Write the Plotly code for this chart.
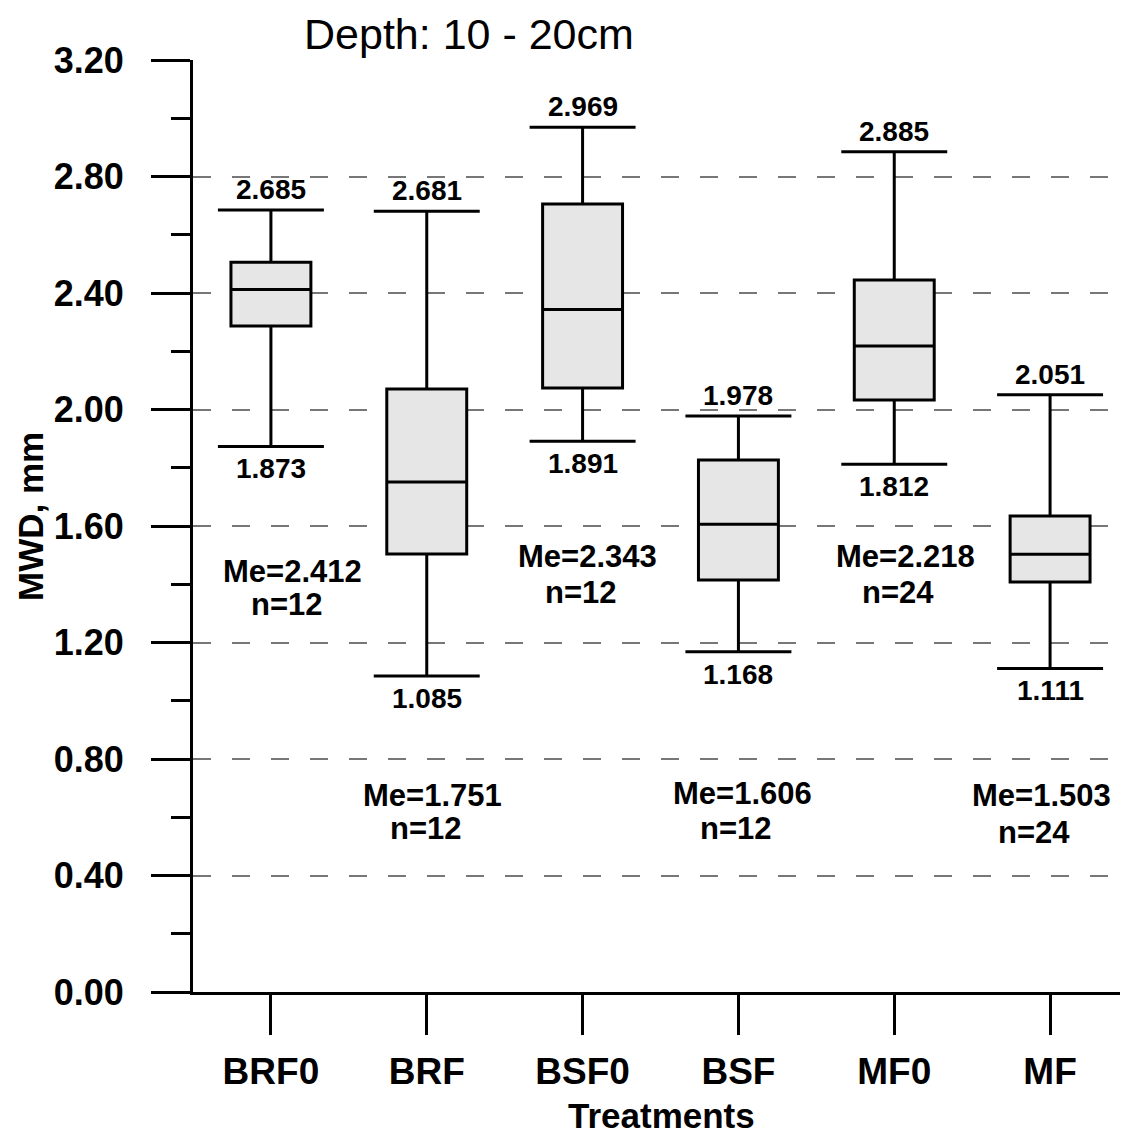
import plotly.graph_objects as go

# ---- data ----
treatments = ["BRF0", "BRF", "BSF0", "BSF", "MF0", "MF"]
whisker_low = [1.873, 1.085, 1.891, 1.168, 1.812, 1.111]
q1 = [2.287, 1.504, 2.074, 1.415, 2.033, 1.408]
median = [2.412, 1.751, 2.343, 1.606, 2.218, 1.503]
q3 = [2.506, 2.070, 2.706, 1.827, 2.445, 1.634]
whisker_high = [2.685, 2.681, 2.969, 1.978, 2.885, 2.051]
n_obs = [12, 12, 12, 12, 24, 24]
y_ticks = [0.0, 0.4, 0.8, 1.2, 1.6, 2.0, 2.4, 2.8, 3.2]

# ---- layout constants (label placement) ----
me_label_y = [1.4455, 0.676, 1.4936, 0.683, 1.4936, 0.676]
n_label_y = [1.329, 0.560, 1.373, 0.563, 1.373, 0.549]
me_xshift = [22, 6, 5, 4, 11, -9]
n_xshift = [16, -1, -2, -2, 4, -16]

FONT = "Arial, 'Liberation Sans', sans-serif"
xs = list(range(len(treatments)))
BOX_W = 0.513
CAP_HALF = 0.34

fig = go.Figure()

fig.add_trace(go.Box(
    x=xs, q1=q1, median=median, q3=q3,
    lowerfence=whisker_low, upperfence=whisker_high,
    width=BOX_W, whiskerwidth=0,
    fillcolor="#e6e6e6",
    line=dict(color="black", width=3),
    boxpoints=False, showlegend=False, hoverinfo="skip",
))

cap_x, cap_y = [], []
for i in xs:
    for v in (whisker_low[i], whisker_high[i]):
        cap_x += [i - CAP_HALF, i + CAP_HALF, None]
        cap_y += [v, v, None]
fig.add_trace(go.Scatter(x=cap_x, y=cap_y, mode="lines",
                         line=dict(color="black", width=3),
                         showlegend=False, hoverinfo="skip"))

ann = []
for i in xs:
    ann.append(dict(x=i, y=whisker_high[i], xref="x", yref="y",
                    text=f"{whisker_high[i]:.3f}", showarrow=False,
                    yanchor="bottom", yshift=3,
                    font=dict(size=28, family=FONT, color="black", weight="bold")))
    ann.append(dict(x=i, y=whisker_low[i], xref="x", yref="y",
                    text=f"{whisker_low[i]:.3f}", showarrow=False,
                    yanchor="top", yshift=-5,
                    font=dict(size=28, family=FONT, color="black", weight="bold")))
    ann.append(dict(x=i, y=me_label_y[i], xref="x", yref="y",
                    text=f"Me={median[i]:.3f}", showarrow=False,
                    yanchor="middle", xshift=me_xshift[i],
                    font=dict(size=31, family=FONT, color="black", weight="bold")))
    ann.append(dict(x=i, y=n_label_y[i], xref="x", yref="y",
                    text=f"n={n_obs[i]}", showarrow=False,
                    yanchor="middle", xshift=n_xshift[i],
                    font=dict(size=31, family=FONT, color="black", weight="bold")))

# axis titles and chart title (paper coords of plot area: x 193..1128, y 60..992 px)
ann.append(dict(x=(30 - 193) / 935, y=(992 - 517) / 932, xref="paper", yref="paper",
                text="MWD, mm", textangle=-90, showarrow=False,
                xanchor="center", yanchor="middle",
                font=dict(size=35, family=FONT, color="black", weight="bold")))
ann.append(dict(x=(661 - 193) / 935, y=(992 - 1115) / 932, xref="paper", yref="paper",
                text="Treatments", showarrow=False,
                xanchor="center", yanchor="middle",
                font=dict(size=35, family=FONT, color="black", weight="bold")))
ann.append(dict(x=(469 - 193) / 935, y=(992 - 34) / 932, xref="paper", yref="paper",
                text="Depth: 10 - 20cm", showarrow=False,
                xanchor="center", yanchor="middle",
                font=dict(size=43, family=FONT, color="black")))

fig.update_layout(
    width=1128, height=1135,
    margin=dict(l=185, r=8, t=52, b=151),
    paper_bgcolor="white", plot_bgcolor="white",
    annotations=ann,
    xaxis=dict(
        range=[-0.5, 5.5], tickvals=xs, ticktext=treatments,
        showgrid=False, zeroline=False,
        showline=True, linecolor="black", linewidth=3,
        ticks="outside", ticklen=40, tickwidth=3, tickcolor="black",
        ticklabelstandoff=5,
        tickfont=dict(size=37, family=FONT, color="black", weight="bold"),
    ),
    yaxis=dict(
        range=[0, 3.2], tickvals=y_ticks,
        ticktext=[f"{v:.2f}" for v in y_ticks],
        showgrid=True, gridcolor="#777777", gridwidth=2, griddash="18px,21px",
        zeroline=False,
        showline=True, linecolor="black", linewidth=3,
        ticks="outside", ticklen=39, tickwidth=3, tickcolor="black",
        ticklabelstandoff=20,
        tickfont=dict(size=36, family=FONT, color="black", weight="bold"),
        minor=dict(dtick=0.2, tick0=0, ticks="outside", ticklen=19,
                   tickwidth=3, tickcolor="black", showgrid=False),
    ),
)

fig.write_html("out.html")
